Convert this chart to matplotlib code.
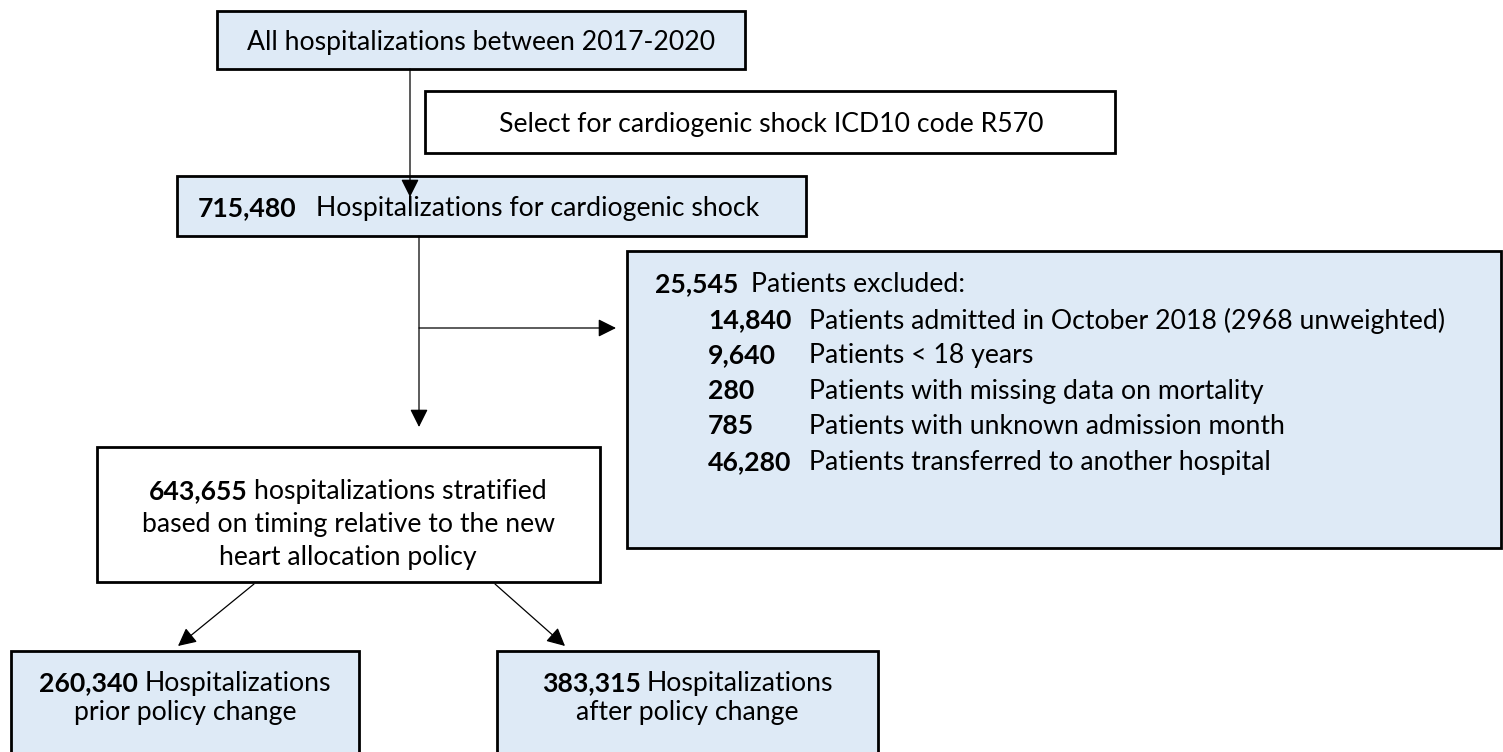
import matplotlib
matplotlib.use("Agg")
import matplotlib.pyplot as plt
from matplotlib.patches import Rectangle

plt.rcParams["font.family"] = ["Lato", "DejaVu Sans"]

# counts and labels of the flow chart
START_LABEL = "All hospitalizations between 2017-2020"
SELECT_LABEL = "Select for cardiogenic shock ICD10 code R570"
SHOCK_COUNT = "715,480"
SHOCK_LABEL = "Hospitalizations for cardiogenic shock"
EXCLUDED_COUNT = "25,545"
EXCLUDED_LABEL = "Patients excluded:"
exclusion_counts = ["14,840", "9,640", "280", "785", "46,280"]
exclusion_labels = [
    "Patients admitted in October 2018 (2968 unweighted)",
    "Patients < 18 years",
    "Patients with missing data on mortality",
    "Patients with unknown admission month",
    "Patients transferred to another hospital",
]
STRAT_COUNT = "643,655"
strat_lines = ["hospitalizations stratified", "based on timing relative to the new",
               "heart allocation policy"]
group_counts = ["260,340", "383,315"]
group_lines = [["Hospitalizations", "prior policy change"],
               ["Hospitalizations", "after policy change"]]

BLUE = "#DEEAF6"
TEXT = "#000000"

fig = plt.figure(figsize=(15.03, 7.52), dpi=100)
ax = fig.add_axes([0, 0, 1, 1])
ax.set_xlim(0, 1503)
ax.set_ylim(752, 0)
ax.axis("off")
renderer = fig.canvas.get_renderer()


def text_width(s, size, bold=False):
    t = ax.text(0, 0, s, fontsize=size, fontweight="bold" if bold else "normal")
    w = t.get_window_extent(renderer).width
    t.remove()
    return w


# font size so the top label fills the same width as in the original
FS = 10 * 468 / text_width(START_LABEL, 10)


def box(x0, y0, x1, y1, fill):
    ax.add_patch(Rectangle((x0, y0), x1 - x0, y1 - y0, facecolor=fill,
                           edgecolor="black", linewidth=2.0, zorder=1))


def runs(x, y, parts, ha="left"):
    # parts: (text, bold, gap after in px)
    items = []
    for s, bold, gap in parts:
        t = ax.text(0, y, s, fontsize=FS, va="center_baseline", ha="left", color=TEXT,
                    fontweight="bold" if bold else "normal", zorder=3)
        items.append((t, t.get_window_extent(renderer).width, gap))
    total = sum(w + g for _, w, g in items) - items[-1][2]
    start = x - total / 2 if ha == "center" else x
    for t, w, g in items:
        t.set_x(start)
        start += w + g


def arrow(x0, y0, x1, y1):
    ax.annotate("", xy=(x1, y1), xytext=(x0, y0), zorder=4,
                arrowprops=dict(arrowstyle="-|>,head_length=1.1,head_width=0.55",
                                color="black", lw=0.9, shrinkA=0, shrinkB=0))


# top boxes
box(217, 11, 745, 69, BLUE)
runs(481, 40, [(START_LABEL, False, 0)], ha="center")

box(425, 91, 1115, 153, "white")
runs(771, 122, [(SELECT_LABEL, False, 0)], ha="center")

box(177, 176, 806, 236, BLUE)
runs(198, 206, [(SHOCK_COUNT, True, 0)])
runs(316, 206, [(SHOCK_LABEL, False, 0)])
arrow(410, 69, 410, 197)

# main down arrow and exclusion arrow
arrow(419, 236, 419, 427)
arrow(419, 328, 616, 328)

box(627, 251, 1501, 548, BLUE)
runs(655, 282, [(EXCLUDED_COUNT, True, 0)])
runs(751, 282, [(EXCLUDED_LABEL, False, 0)])
for i, (c, lab) in enumerate(zip(exclusion_counts, exclusion_labels)):
    y = 318 + i * 35.5
    runs(708, y, [(c, True, 0)])
    runs(809, y, [(lab, False, 0)])

# stratified box
box(97, 447, 600, 582, "white")
runs(348, 489, [(STRAT_COUNT, True, 6), (strat_lines[0], False, 0)], ha="center")
runs(348, 522, [(strat_lines[1], False, 0)], ha="center")
runs(348, 555, [(strat_lines[2], False, 0)], ha="center")

arrow(254, 584, 178, 646)
arrow(495, 584, 565, 646)

# bottom boxes
for (x0, x1), c, lines in zip([(11, 359), (497, 878)], group_counts, group_lines):
    box(x0, 651, x1, 770, BLUE)
    cx = (x0 + x1) / 2
    runs(cx, 681, [(c, True, 6), (lines[0], False, 0)], ha="center")
    runs(cx, 710, [(lines[1], False, 0)], ha="center")

fig.savefig("out.png", dpi=100)
